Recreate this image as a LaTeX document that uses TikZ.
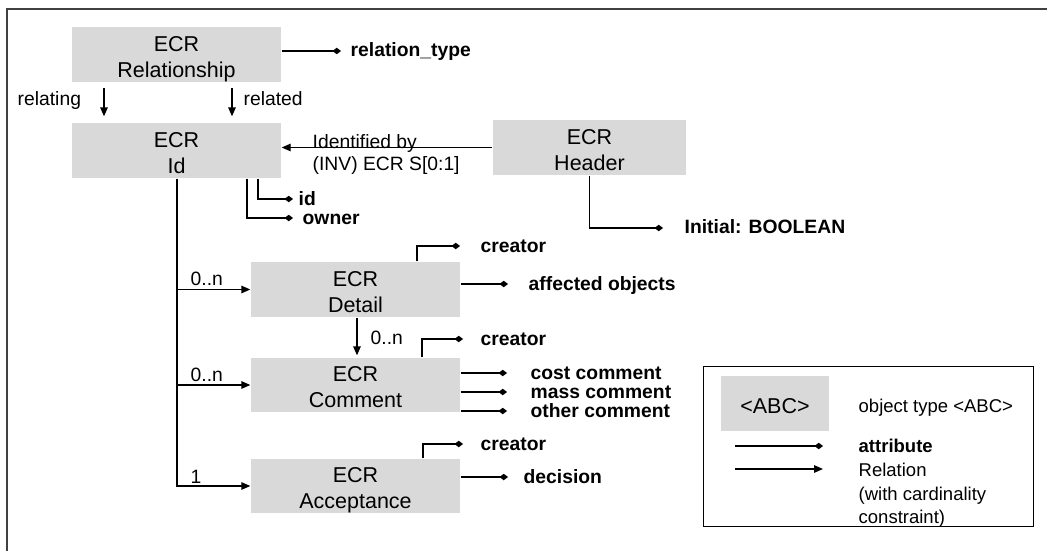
\documentclass[tikz,border=0pt]{standalone}
\usepackage{fontspec}
\setmainfont{Liberation Sans}
\usetikzlibrary{arrows.meta}
\definecolor{boxgray}{HTML}{D9D9D9}
% two-line box caption, set slightly below the geometric centre
\newcommand\ecrlines[1]{\raisebox{-4.5pt}[\height][\depth]{\begin{tabular}{@{}c@{}}#1\end{tabular}}}
\begin{document}
\begin{tikzpicture}[x=1pt,y=-1pt,line width=1.4pt,
  objbox/.style={fill=boxgray,inner sep=0pt,minimum width=209pt,minimum height=55pt,
    font=\fontsize{21.5}{26}\selectfont},
  attr/.style={-{Diamond[length=8.5pt,width=6.5pt]}},
  relarrow/.style={-{Triangle[length=9pt,width=7.5pt]}},
  lbl/.style={anchor=base west,inner sep=0pt,font=\fontsize{19.3}{23}\selectfont},
  albl/.style={anchor=base west,inner sep=0pt,font=\fontsize{19.3}{23}\selectfont\bfseries},
  leglbl/.style={anchor=base west,inner sep=0pt,font=\fontsize{18.5}{23}\selectfont},
]
\useasboundingbox (0,0) rectangle (1047,551);
\fill[white] (0,0) rectangle (1047,551);

% outer frame
\coordinate (fr-bl) at (7,551);
\coordinate (fr-tl) at (7,9);
\coordinate (fr-tr) at (1047,9);
\draw[line width=1.5pt,black!75] (fr-bl) -- (fr-tl) -- (fr-tr);

% object types
\node[objbox] (rel) at (176.5,55) {\ecrlines{ECR\\Relationship}};
\node[objbox] (idn) at (176.5,150.5) {\ecrlines{ECR\\Id}};
\node[objbox,minimum width=193pt] (hdr) at (589.5,147.5) {\ecrlines{ECR\\Header}};
\node[objbox] (det) at (355.5,289.5) {\ecrlines{ECR\\Detail}};
\node[objbox,minimum height=54pt] (com) at (355.5,385) {\ecrlines{ECR\\Comment}};
\node[objbox,minimum height=54pt] (acc) at (355.5,486) {\ecrlines{ECR\\Acceptance}};

% attribute labels
\node[albl] (rtype) at (350,57) {relation\_type};
\node[albl] (idattr) at (298,205) {id};
\node[albl] (owner) at (302,224) {owner};
\node[albl] (initial) at (684,233.5) {Initial: BOOLEAN};
\node[albl] (dcreator) at (480,252) {creator};
\node[albl] (affected) at (528,290) {affected objects};
\node[albl] (ccreator) at (480,345) {creator};
\node[albl] (cost) at (530,379) {cost comment};
\node[albl] (mass) at (530,398) {mass comment};
\node[albl] (other) at (530,417) {other comment};
\node[albl] (acreator) at (480,450) {creator};
\node[albl] (decision) at (523,483) {decision};

% attribute end points
\coordinate (rtype-d) at (341,51);
\coordinate (id-d) at (293,199);
\coordinate (own-d) at (293,218);
\coordinate (ini-d) at (663,228);
\coordinate (dcr-d) at (460,246);
\coordinate (aff-d) at (508,284);
\coordinate (ccr-d) at (463,339);
\coordinate (cost-d) at (507,373);
\coordinate (mass-d) at (507,392);
\coordinate (other-d) at (507,411);
\coordinate (acr-d) at (463,444);
\coordinate (dec-d) at (508,477);

% attributes
\draw[attr] (rel.east |- rtype-d) -- (rtype-d);
\draw[attr] ([xshift=81.5pt]idn.south) |- (id-d);
\draw[attr] ([xshift=70.5pt]idn.south) |- (own-d);
\draw[attr] (hdr.south) |- (ini-d);
\draw[attr] ([xshift=61.5pt]det.north) |- (dcr-d);
\draw[attr] (det.east |- aff-d) -- (aff-d);
\draw[attr] ([xshift=66.5pt]com.north) |- (ccr-d);
\draw[attr] (com.east |- cost-d) -- (cost-d);
\draw[attr] (com.east |- mass-d) -- (mass-d);
\draw[attr] (com.east |- other-d) -- (other-d);
\draw[attr] ([xshift=67.5pt]acc.north) |- (acr-d);
\draw[attr] (acc.east |- dec-d) -- (dec-d);

% relations
\draw[relarrow,shorten <=5pt,shorten >=6pt] ([xshift=-72.5pt]rel.south) -- ([xshift=-72.5pt]idn.north);
\draw[relarrow,shorten <=5pt,shorten >=6pt] ([xshift=55.5pt]rel.south) -- ([xshift=55.5pt]idn.north);
\node[lbl] (relating) at (17,106) {relating};
\node[lbl] (related) at (243,106) {related};

\draw[relarrow] (hdr.west) -- (hdr.west -| idn.east);
\node[lbl] (identby) at (312,148) {Identified by};
\node[lbl] (inv) at (312,170) {(INV) ECR S[0:1]};

\draw[relarrow] ([xshift=0.5pt]idn.south) |- (acc.west);
\draw[relarrow] ([xshift=0.5pt]idn.south |- det.west) -- (det.west);
\draw[relarrow] ([xshift=0.5pt]idn.south |- com.west) -- (com.west);
\node[lbl] (card-det) at (190,285) {0..n};
\node[lbl] (card-com) at (190,381.5) {0..n};
\node[lbl] (card-acc) at (190,483) {1};

\draw[relarrow,shorten >=2pt] ([xshift=1.5pt]det.south) -- ([xshift=1.5pt]com.north);
\node[lbl] (card-dc) at (370,344) {0..n};

% legend
\node[draw,line width=1pt,minimum width=330pt,minimum height=160pt,inner sep=0pt] (legend) at (868,446) {};
\node[objbox,minimum width=108pt,minimum height=55pt] (abc) at (775,403.5) {\ecrlines{<ABC>}};
\node[leglbl] (objtype) at (858,412) {object type <ABC>};
\coordinate (la-s) at (735,446);
\coordinate (la-e) at (823,446);
\draw[attr] (la-s) -- (la-e);
\node[leglbl,font=\fontsize{18.5}{23}\selectfont\bfseries] (legattr) at (858,452) {attribute};
\coordinate (lr-s) at (735,469);
\coordinate (lr-e) at (823,469);
\draw[relarrow] (lr-s) -- (lr-e);
\node[leglbl] (legrel1) at (858,476) {Relation};
\node[leglbl] (legrel2) at (858,500) {(with cardinality};
\node[leglbl] (legrel3) at (858,523) {constraint)};
\end{tikzpicture}
\end{document}
